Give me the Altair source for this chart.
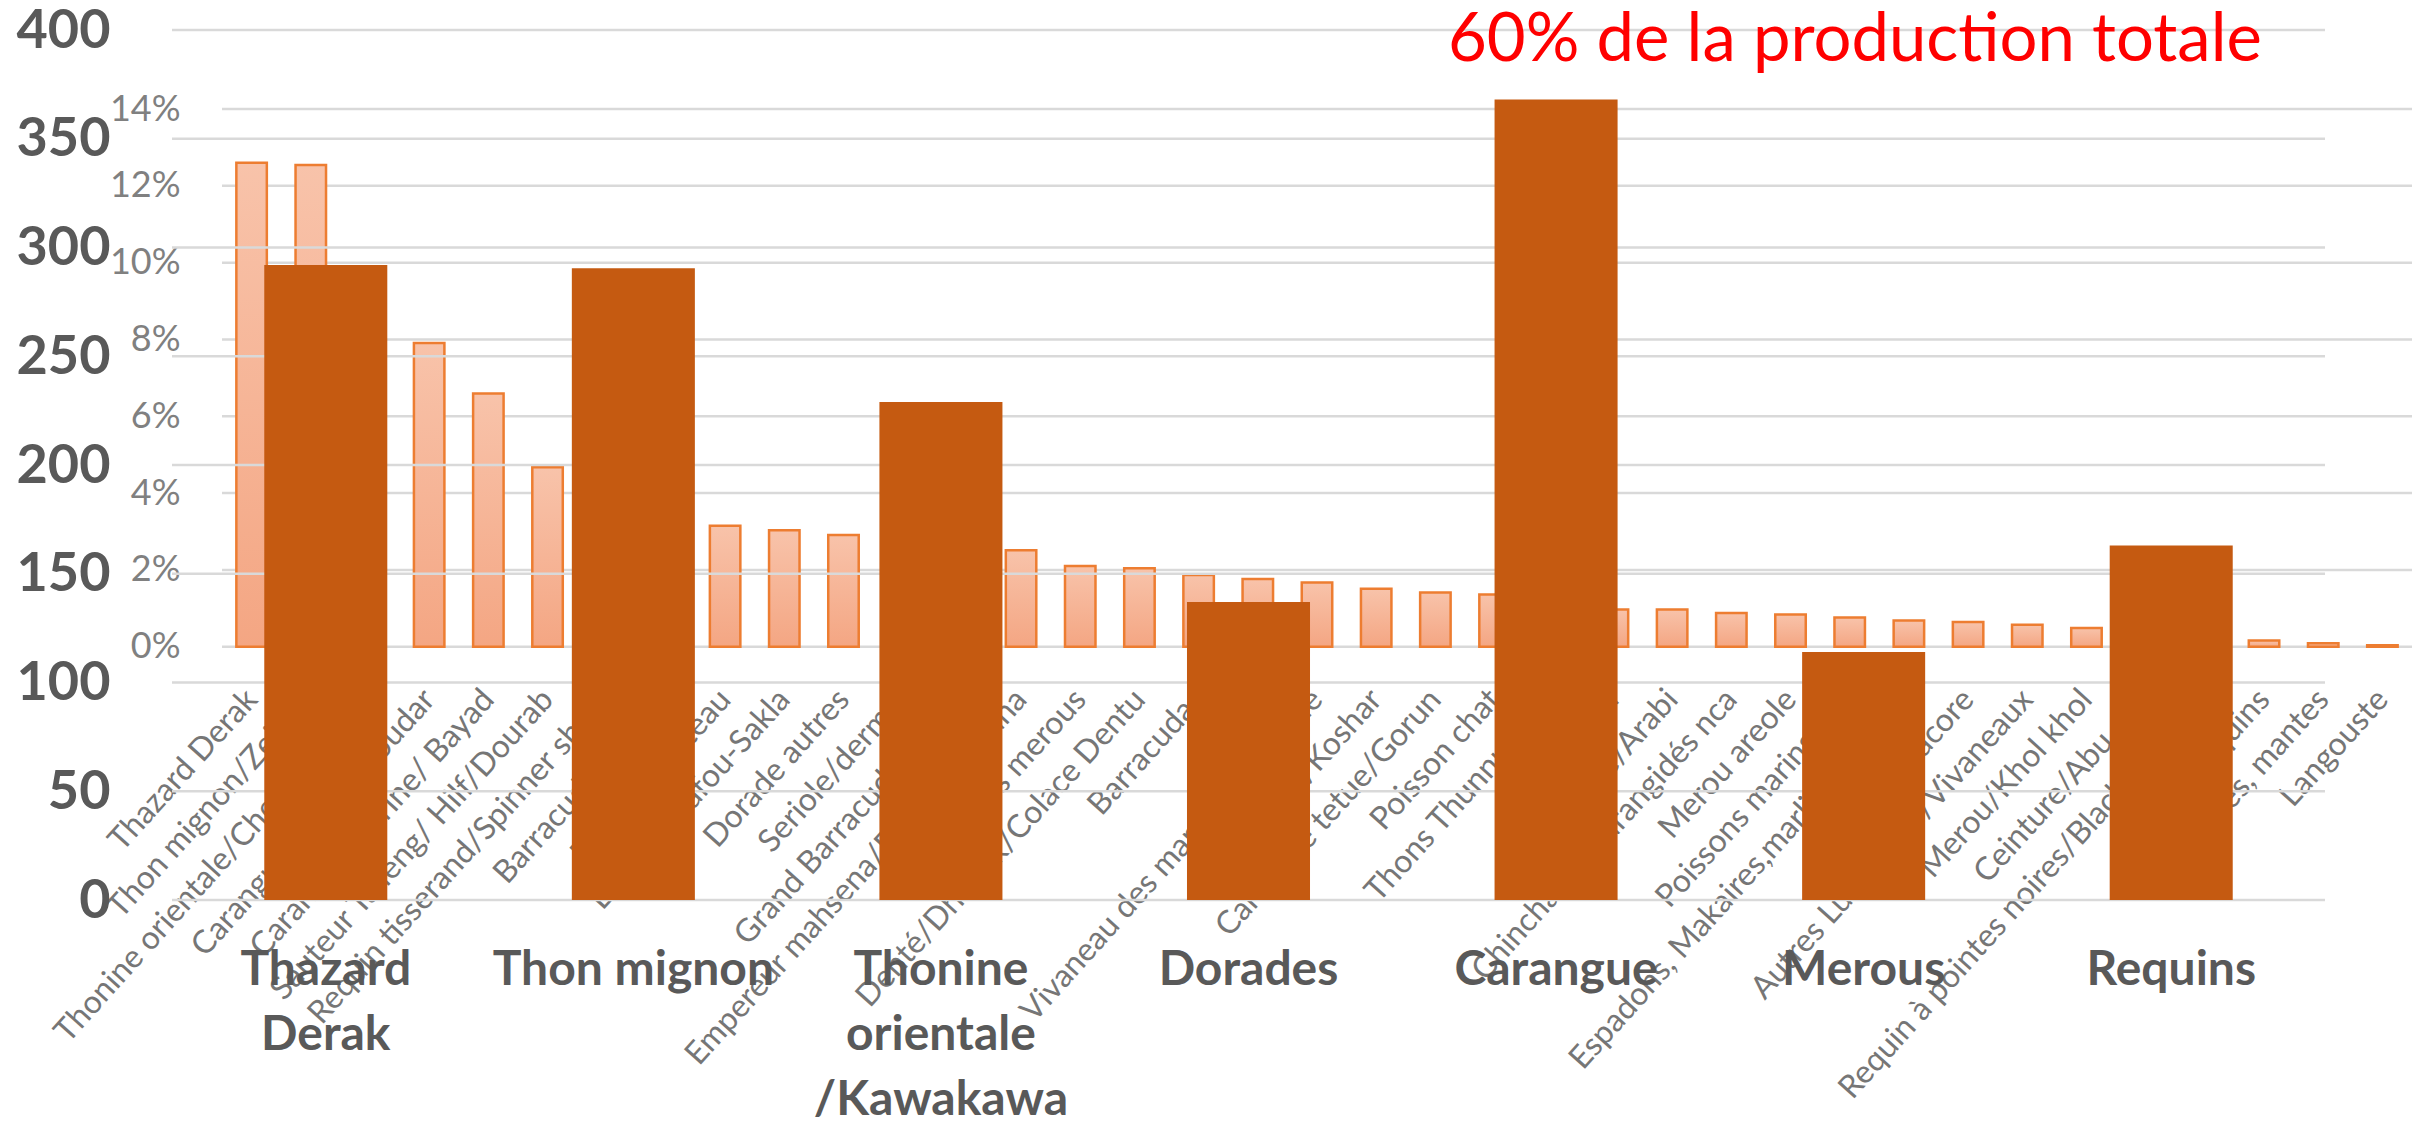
import altair as alt
import pandas as pd

# ---------------- data ----------------
species = [
    "Thazard Derak", "Thon mignon/Zeinab", "Thonine orientale/Cherwa/Kawa",
    "Carangue royale/Goudar", "Carangue marine/ Bayad", "Sauteur Talleng/ Hilf/Dourab",
    "Requin tisserand/Spinner shark", "Barracuda/Sawda", "Requin marteau",
    "Dorade/Safou-Sakla", "Dorade autres", "Seriole/dermel", "Grand Barracuda/Aqam",
    "Empereur mahsena/Dhebab/Shana", "Autres merous", "Denté/Dhabak/Colace Dentu",
    "Barracudas", "Bonite", "Vivaneau des mangroves/Naile", "Merou/Koshar",
    "Carangue tetue/Gorun", "Poisson chat", "Thons Thunnus nca", "Maquereau",
    "Sardinelle/Arabi", "Chinchards, carangidés nca", "Merou areole",
    "Poissons marins nca", "Espadons, Makaires,marlins, voiliers", "Thon albacore",
    "Autres Lutjanidés/Vivaneaux", "Merou/Khol khol", "Ceinture/Abu saif",
    "Requin à pointes noires/Blacktip shark", "Autres requins", "Raies, mantes",
    "Langouste",
]
share_pct = [
    12.6, 12.54, 9.88, 7.91, 6.59, 4.67, 3.45, 3.3, 3.15, 3.03, 2.91, 2.75, 2.62,
    2.51, 2.10, 2.04, 1.87, 1.76, 1.67, 1.51, 1.41, 1.36, 1.15, 0.97, 0.97, 0.88,
    0.84, 0.76, 0.68, 0.64, 0.57, 0.49, 0.40, 0.27, 0.16, 0.09, 0.04,
]
groups = ["Thazard|Derak", "Thon mignon", "Thonine|orientale|/Kawakawa",
          "Dorades", "Carangue", "Merous", "Requins"]
tonnes = [292, 290.5, 229, 137, 368, 114, 163]
pct_ticks = [0, 2, 4, 6, 8, 10, 12, 14]
tonne_ticks = [0, 50, 100, 150, 200, 250, 300, 350, 400]
title_text = "60% de la production totale"

# ---------------- layout ----------------
W, H = 2153, 870
BACK_X = [50, 2240]
BACK_Y = [616.7, 79]
FONT = "Lato"

back_df = pd.DataFrame({"species": species, "share": share_pct})
front_df = pd.DataFrame({"group": groups, "tonnes": tonnes})

grad = alt.LinearGradient(
    gradient="linear",
    stops=[alt.GradientStop(color="#F8C3AA", offset=0),
           alt.GradientStop(color="#F4A683", offset=1)],
    x1=0, x2=0, y1=0, y2=1,
)

back_grid = alt.Chart(pd.DataFrame({"v": pct_ticks})).mark_rule(
    color="#D9D9D9", strokeWidth=2.5
).encode(
    y=alt.Y("v:Q", scale=alt.Scale(domain=[0, 14], range=BACK_Y, nice=False), axis=None),
    x=alt.value(BACK_X[0]), x2=alt.value(BACK_X[1]),
)

back_bars = alt.Chart(back_df).mark_bar(
    color=grad, stroke="#ED7D31", strokeWidth=2.5
).encode(
    x=alt.X("species:N", sort=species,
            scale=alt.Scale(range=BACK_X, paddingInner=0.485, paddingOuter=0.2425),
            axis=alt.Axis(orient="bottom", offset=-(H - BACK_Y[0]), title=None,
                          labelAngle=-48, labelAlign="right", labelBaseline="middle",
                          labelPadding=47, labelFont=FONT, labelFontSize=32,
                          labelColor="#767676", labelLimit=0, labelOverlap=False,
                          ticks=False, domain=False, grid=False)),
    y=alt.Y("share:Q", scale=alt.Scale(domain=[0, 14], range=BACK_Y, nice=False),
            axis=alt.Axis(orient="left", offset=-BACK_X[0], values=pct_ticks,
                          labelExpr="datum.value + '%'", title=None, grid=False,
                          ticks=False, domain=False, labelPadding=42, labelFont=FONT,
                          labelFontSize=36, labelColor="#808080")),
)

front_grid = alt.Chart(pd.DataFrame({"v": tonne_ticks})).mark_rule(
    color="#D9D9D9", strokeWidth=2.5
).encode(
    y=alt.Y("v:Q", scale=alt.Scale(domain=[0, 400], range=[H, 0], nice=False), axis=None),
    x=alt.value(0), x2=alt.value(W),
)

front_bars = alt.Chart(front_df).mark_bar(color="#C55A11").encode(
    x=alt.X("group:N", sort=groups,
            scale=alt.Scale(range=[0, W], paddingInner=0.6, paddingOuter=0.3),
            axis=alt.Axis(orient="bottom", title=None, labelAngle=0, labelAlign="center",
                          labelBaseline="top", labelPadding=46, labelFont=FONT,
                          labelFontSize=48, labelFontWeight="bold", labelColor="#595959",
                          labelLimit=0, labelLineHeight=65,
                          labelExpr="split(datum.label, '|')", ticks=False,
                          domain=False, grid=False, labelOverlap=False)),
    y=alt.Y("tonnes:Q", scale=alt.Scale(domain=[0, 400], range=[H, 0], nice=False),
            axis=alt.Axis(orient="left", values=tonne_ticks, title=None, ticks=False,
                          domain=False, grid=False, labelPadding=62, labelFont=FONT,
                          labelFontSize=54, labelFontWeight="bold", labelOffset=1,
                          labelColor="#595959")),
)

title_layer = alt.Chart(pd.DataFrame({"t": [title_text]})).mark_text(
    font=FONT, fontSize=67, color="#FF0000", align="left", baseline="alphabetic"
).encode(text="t:N", x=alt.value(1276), y=alt.value(31))

chart = alt.layer(
    back_grid, back_bars, front_grid, front_bars, title_layer
).resolve_scale(
    x="independent", y="independent"
).resolve_axis(
    x="independent", y="independent"
).properties(
    width=W, height=H,
    autosize=alt.AutoSizeParams(type="none"),
    padding={"left": 164, "top": 22, "right": 92, "bottom": 245},
).configure_view(stroke=None)

chart.save("out.html", embed_options={"renderer": "svg", "actions": False})
